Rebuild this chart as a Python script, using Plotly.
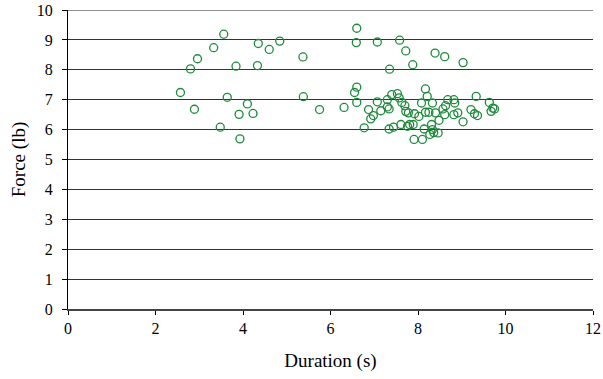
import plotly.graph_objects as go

duration = [2.57, 2.80, 2.96, 2.89, 3.33, 3.56, 3.48, 3.64, 3.84, 3.91, 3.93, 4.10, 4.23, 4.33, 4.35, 4.60, 4.84,
            5.37, 5.38, 5.75, 6.60, 6.59, 7.07, 7.58, 7.72, 8.39, 8.61, 9.03, 7.35, 7.88,
            6.31, 6.60, 6.55, 6.60, 6.77, 6.87, 7.07, 7.15, 6.98, 6.92, 7.30, 7.30, 7.34, 7.40, 7.34, 7.44,
            7.53, 7.57, 7.61, 7.63, 7.70, 7.72, 7.78, 7.76, 7.81, 7.89, 7.91, 7.92, 8.02, 8.08, 8.10, 8.14,
            8.17, 8.21, 8.17, 8.25, 8.27, 8.31, 8.33, 8.33, 8.36, 8.40, 8.46, 8.48, 8.57, 8.61, 8.63, 8.68,
            8.82, 8.84, 8.82, 8.91, 9.03, 9.21, 9.33, 9.29, 9.36, 9.63, 9.67, 9.71, 9.75]
force = [7.24, 8.03, 8.37, 6.68, 8.74, 9.19, 6.08, 7.08, 8.12, 6.51, 5.69, 6.86, 6.54, 8.14, 8.88, 8.68, 8.96,
         8.43, 7.10, 6.67, 9.39, 8.91, 8.93, 8.99, 8.63, 8.56, 8.44, 8.24, 8.02, 8.17,
         6.74, 7.42, 7.24, 6.91, 6.06, 6.67, 6.93, 6.63, 6.47, 6.36, 7.00, 6.76, 6.69, 7.17, 6.02, 6.08,
         7.20, 7.06, 6.17, 6.91, 6.80, 6.61, 6.56, 6.11, 6.17, 6.17, 5.67, 6.53, 6.44, 6.89, 5.67, 6.02,
         7.36, 7.11, 6.58, 6.58, 5.84, 6.17, 6.89, 6.00, 5.90, 6.56, 5.89, 6.31, 6.69, 6.50, 6.80, 7.00,
         7.00, 6.89, 6.50, 6.56, 6.26, 6.67, 7.11, 6.53, 6.47, 6.91, 6.61, 6.72, 6.69]

x_ticks = [0, 2, 4, 6, 8, 10, 12]
y_ticks = list(range(0, 11))
y_max = 10

font_family = "Liberation Serif, Times New Roman, serif"

fig = go.Figure(go.Scatter(
    x=duration, y=force, mode="markers",
    marker=dict(symbol="circle-open", size=8, color="#1e8a3c", line=dict(width=1.3, color="#1e8a3c")),
    showlegend=False, cliponaxis=False, hoverinfo="skip",
))

# top gridline (plotly drops gridlines lying on the plot edge)
fig.add_shape(type="line", xref="paper", yref="y", x0=0, x1=1, y0=y_max, y1=y_max,
              line=dict(color="#222", width=1), layer="below")

fig.update_layout(
    width=603, height=379,
    margin=dict(l=68, r=10, t=10, b=70, autoexpand=False),
    paper_bgcolor="white", plot_bgcolor="white",
    font=dict(family=font_family, size=16, color="black"),
    xaxis=dict(
        range=[0, 12], tickvals=x_ticks, ticktext=[str(v) for v in x_ticks],
        showgrid=False, zeroline=False, showline=True, linecolor="#444", linewidth=2,
        ticks="outside", ticklen=4, tickcolor="black", tickwidth=1,
        ticklabeloverflow="allow",
        title=dict(text="Duration (s)", standoff=17),
    ),
    yaxis=dict(
        range=[0, y_max], tickvals=y_ticks, ticktext=[str(v) for v in y_ticks],
        showgrid=True, gridcolor="#333", gridwidth=1, zeroline=False,
        showline=True, linecolor="black", linewidth=1,
        ticks="outside", ticklen=5, tickcolor="black", tickwidth=1,
        ticklabelstandoff=6, ticklabeloverflow="allow",
        title=dict(text="Force (lb)", standoff=6),
    ),
)

fig.write_html("out.html", post_script="document.body.style.margin='0';",
               config={"displayModeBar": False})
